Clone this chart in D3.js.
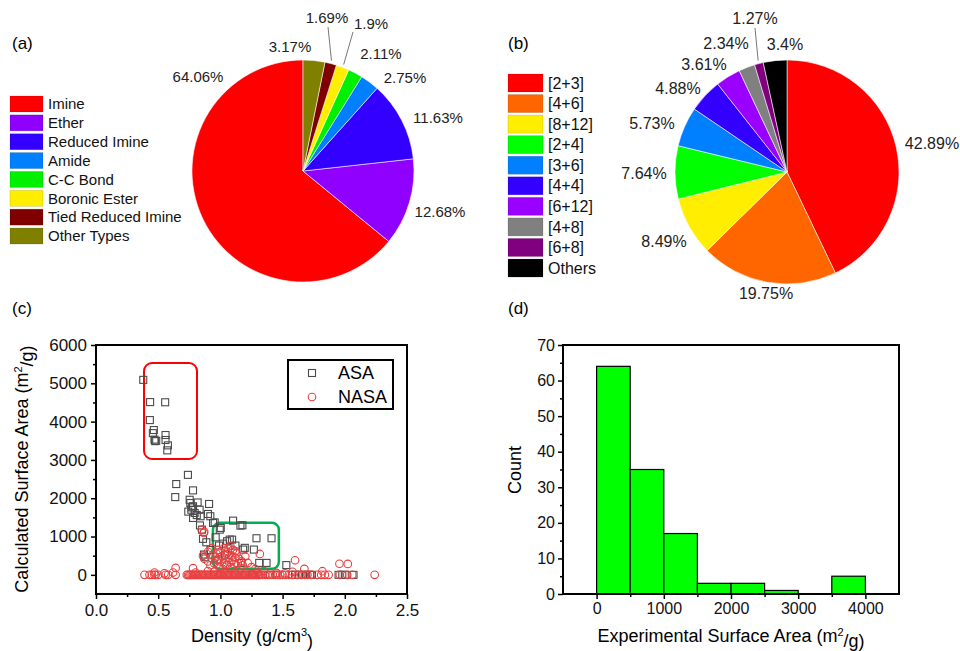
<!DOCTYPE html>
<html><head><meta charset="utf-8">
<script src="https://cdn.jsdelivr.net/npm/d3@7"></script>
<style>
html,body{margin:0;padding:0;background:#fff;}
svg{display:block;font-family:Arial,"Liberation Sans",sans-serif;}
</style></head>
<body><svg id="c" width="960" height="651"></svg>
<script>
// ---------- DATA ----------
const bondTypes = ["Imine","Ether","Reduced Imine","Amide","C-C Bond","Boronic Ester","Tied Reduced Imine","Other Types"];
const bondShares = [64.06,12.68,11.63,2.75,2.11,1.9,1.69,3.17];
const bondColors = ["#FF0000","#8F00FF","#3300FF","#0080FF","#00F000","#FFEE00","#800000","#808000"];

const topoTypes = ["[2+3]","[4+6]","[8+12]","[2+4]","[3+6]","[4+4]","[6+12]","[4+8]","[6+8]","Others"];
const topoShares = [42.89,19.75,8.49,7.64,5.73,4.88,3.61,2.34,1.27,3.4];
const topoColors = ["#FF0000","#FF6600","#FFEE00","#00FF00","#0080FF","#3300FF","#9900FF","#808080","#800080","#000000"];

const asaDensity = [0.38,0.435,0.556,0.433,0.465,0.457,0.47,0.484,0.475,0.559,0.559,0.578,0.573,
  0.739,0.645,0.637,0.78,0.753,0.758,0.817,0.909,0.742,0.766,0.78,0.793,0.833,0.841,0.78,0.90,0.919,
  0.954,0.941,0.995,0.836,0.852,0.86,0.887,0.962,1.003,1.102,1.161,1.177,1.054,1.075,1.094,1.022,
  0.989,1.121,1.196,1.183,1.269,1.29,1.411,0.868,0.879,0.984,1.038,1.312,1.371,1.169,1.53,
  1.575,1.6,1.63,1.66,1.69,1.72,1.736,1.95,1.98,2.0,2.07,1.12,1.2,1.26,1.33,1.4,1.45,0.77,0.81,0.92];
const asaArea = [5090,4510,4505,4040,3780,3700,3530,3500,3490,3650,3520,3380,3250,
  2610,2370,2030,2205,1960,1875,1890,1850,1650,1700,1790,1615,1700,1530,1485,1590,1530,
  1370,1355,1180,1290,1180,940,850,980,1225,1415,1285,1295,877,920,920,815,
  765,765,705,660,660,955,955,530,460,400,530,312,312,312,255,
  0,0,0,0,0,0,0,0,0,0,0,0,0,0,0,0,0,1760,1560,650];

const nasaDensity = [0.39,0.43,0.45,0.47,0.48,0.5,0.56,0.58,0.64,0.73,0.74,0.75,0.76,0.77,0.78,0.79,0.8,
  0.81,0.82,0.83,0.84,0.85,0.86,0.87,0.88,0.89,0.9,0.91,0.92,0.93,0.94,0.95,0.96,0.97,0.98,0.99,1.0,
  1.01,1.02,1.03,1.04,1.05,1.06,1.07,1.08,1.09,1.1,1.11,1.12,1.13,1.14,1.15,1.16,1.17,1.18,1.19,1.2,
  1.21,1.22,1.23,1.24,1.25,1.26,1.27,1.28,1.29,1.3,1.31,1.32,1.34,1.36,1.38,1.4,1.42,1.44,1.46,1.48,
  1.5,1.52,1.55,1.58,1.62,1.65,1.68,1.7,1.73,1.78,1.81,1.84,1.87,1.96,2.02,2.06,2.24,
  0.64,0.78,0.85,0.866,0.87,0.86,0.87,0.9,0.9,0.92,0.93,0.95,0.96,0.97,0.98,0.99,1.0,1.0,1.01,1.02,
  1.03,1.04,1.05,1.05,1.06,1.07,1.07,1.08,1.08,1.09,1.1,1.1,1.11,1.12,1.13,1.14,1.15,1.16,1.17,1.18,
  1.2,1.22,1.25,1.28,1.317,1.35,1.6,1.675,1.82,1.957,2.024,0.8,0.9,0.95,1.0,1.3,1.45,1.52,1.58,0.62,0.55,0.47,
  0.94,1.06,1.12,0.97,1.09,1.03];
const nasaArea = [0,0,0,0,0,0,0,0,0,0,0,0,0,0,0,0,0,
  0,0,0,0,0,0,0,0,0,0,0,0,0,0,0,0,0,0,0,0,
  0,0,0,0,0,0,0,0,0,0,0,0,0,0,0,0,0,0,0,0,
  0,0,0,0,0,0,0,0,0,0,0,0,0,0,0,0,0,0,0,0,
  0,0,0,0,0,0,0,0,0,0,0,0,0,0,0,0,0,
  180,175,1180,1095,1120,500,420,350,600,250,700,300,450,550,650,200,600,350,480,150,
  700,400,250,550,600,330,450,750,200,500,380,650,280,450,560,300,420,180,350,250,
  480,310,200,150,545,100,380,155,95,290,285,60,100,80,50,60,50,40,80,60,40,60,
  520,680,620,380,160,300];

const histBinStart = [0,500,1000,1500,2000,2500,3000,3500];
const histCounts = [64,35,17,3,3,1,0,5];
const binWidth = 500;

const xTicksC = [0,0.5,1.0,1.5,2.0,2.5];
const yTicksC = [0,1000,2000,3000,4000,5000,6000];
const xTicksD = [0,1000,2000,3000,4000];
const yTicksD = [0,10,20,30,40,50,60,70];

// ---------- DRAW ----------
const svg = d3.select("#c");
const FONT = "Arial, 'Liberation Sans', sans-serif";

function panelLabel(t,x,y){
  svg.append("text").attr("x",x).attr("y",y).attr("dy","0.35em").attr("font-size",17).text(t);
}
panelLabel("(a)",12,43); panelLabel("(b)",508,43); panelLabel("(c)",12,308); panelLabel("(d)",508,308);

function drawPie(opts){
  const g = svg.append("g").attr("transform",`translate(${opts.cx},${opts.cy})`);
  const pie = d3.pie().sort(null).value(d=>d.v).startAngle(0).endAngle(opts.dir*2*Math.PI);
  const arcs = pie(opts.data);
  const arc = d3.arc().innerRadius(0).outerRadius(opts.r);
  g.selectAll("path").data(arcs).enter().append("path")
    .attr("d",arc).attr("fill",d=>d.data.c)
    .attr("stroke","#fff").attr("stroke-width",0.7).attr("stroke-opacity",0.8);
  arcs.forEach((a,i)=>{
    const lp = opts.labels[i];
    g.append("text").attr("x",lp[0]).attr("y",lp[1]).attr("dy","0.35em")
      .attr("text-anchor","middle").attr("font-size",opts.fs).attr("fill","#222")
      .text(a.data.v+"%");
    if(lp.length>2){
      const mid=(a.startAngle+a.endAngle)/2, rr=opts.r+3;
      g.append("line").attr("x1",lp[2]).attr("y1",lp[3])
        .attr("x2",rr*Math.sin(mid)).attr("y2",-rr*Math.cos(mid))
        .attr("stroke","#777").attr("stroke-width",1);
    }
  });
  const lg = svg.append("g");
  opts.data.forEach((d,i)=>{
    const y = opts.ly + i*opts.lp;
    lg.append("rect").attr("x",opts.lx).attr("y",y).attr("width",opts.sw).attr("height",opts.sh)
      .attr("fill",d.c).attr("stroke","#000").attr("stroke-opacity",0.15).attr("stroke-width",0.8);
    lg.append("text").attr("x",opts.lx+opts.sw+5).attr("y",y+opts.sh/2).attr("dy","0.35em")
      .attr("font-size",opts.lfs).attr("fill","#111").text(d.n);
  });
}

drawPie({
  cx:303, cy:171, r:111, dir:-1, fs:15,
  data: bondTypes.map((n,i)=>({n, v:bondShares[i], c:bondColors[i]})),
  labels: [[-105,-94],[137,41],[135,-53],[102,-93],[78,-117],[68,-147,50,-139],[24,-153,25,-144],[-13,-124]],
  lx:10, ly:96, lp:18.86, sw:33, sh:16, lfs:15
});

drawPie({
  cx:787, cy:172, r:112, dir:1, fs:16,
  data: topoTypes.map((n,i)=>({n, v:topoShares[i], c:topoColors[i]})),
  labels: [[145,-29],[-21,121],[-123,69],[-143,1],[-135,-49],[-109,-84],[-83,-108],[-61,-129],[-32,-154,-32,-144],[-2,-128]],
  lx:508, ly:74, lp:20.56, sw:35, sh:18, lfs:16
});

// ---------- (c) scatter ----------
const xc = d3.scaleLinear().domain([0,2.5]).range([96,407]);
const yc = d3.scaleLinear().domain([-500,6000]).range([594,345]);

function styleAxis(sel, fs){
  sel.select(".domain").remove();
  sel.selectAll(".tick line").attr("stroke","#000").attr("stroke-width",1.5);
  sel.selectAll(".tick text").attr("font-size",fs).attr("font-family",FONT).attr("fill","#111");
}
const gc = svg.append("g");
gc.append("g").attr("transform","translate(96,0)")
  .call(d3.axisLeft(yc).tickValues(yTicksC).tickSize(5).tickPadding(4).tickFormat(d3.format("d")))
  .call(s=>styleAxis(s,17));
gc.append("g").attr("transform","translate(96,0)")
  .call(d3.axisLeft(yc).tickValues([500,1500,2500,3500,4500,5500]).tickSize(3).tickFormat(""))
  .call(s=>styleAxis(s,17));
gc.append("g").attr("transform","translate(0,594)")
  .call(d3.axisBottom(xc).tickValues(xTicksC).tickSize(5).tickPadding(5).tickFormat(d3.format(".1f")))
  .call(s=>styleAxis(s,17));
gc.append("g").attr("transform","translate(0,594)")
  .call(d3.axisBottom(xc).tickValues([0.25,0.75,1.25,1.75,2.25]).tickSize(3).tickFormat(""))
  .call(s=>styleAxis(s,17));

gc.append("rect").attr("x",xc(0.386)).attr("y",yc(5530)).attr("width",xc(0.812)-xc(0.386))
  .attr("height",yc(3026)-yc(5530)).attr("rx",8).attr("fill","none").attr("stroke","#FF0000").attr("stroke-width",2);
gc.append("rect").attr("x",xc(0.94)).attr("y",yc(1357)).attr("width",xc(1.47)-xc(0.94))
  .attr("height",yc(157)-yc(1357)).attr("rx",7).attr("fill","none").attr("stroke","#00B050").attr("stroke-width",2.5);

const ms = 7;
gc.append("g").selectAll("rect").data(asaDensity.map((d,i)=>[d,asaArea[i]])).enter().append("rect")
  .attr("x",d=>xc(d[0])-ms/2).attr("y",d=>yc(d[1])-ms/2).attr("width",ms).attr("height",ms)
  .attr("fill","none").attr("stroke","#4a4a4a").attr("stroke-width",1.1);
gc.append("g").selectAll("circle").data(nasaDensity.map((d,i)=>[d,nasaArea[i]])).enter().append("circle")
  .attr("cx",d=>xc(d[0])).attr("cy",d=>yc(d[1])).attr("r",3.8)
  .attr("fill","none").attr("stroke","#E84040").attr("stroke-width",1.1);

gc.append("rect").attr("x",96).attr("y",345).attr("width",311).attr("height",249)
  .attr("fill","none").attr("stroke","#000").attr("stroke-width",2);

gc.append("rect").attr("x",288).attr("y",360).attr("width",105).attr("height",49)
  .attr("fill","#fff").attr("stroke","#000").attr("stroke-width",2);
gc.append("rect").attr("x",312-ms/2).attr("y",373-ms/2).attr("width",ms).attr("height",ms)
  .attr("fill","none").attr("stroke","#4a4a4a").attr("stroke-width",1.1);
gc.append("circle").attr("cx",312).attr("cy",397).attr("r",3.8).attr("fill","none").attr("stroke","#E84040").attr("stroke-width",1.1);
gc.append("text").attr("x",338).attr("y",373).attr("dy","0.35em").attr("font-size",18).text("ASA");
gc.append("text").attr("x",338).attr("y",397).attr("dy","0.35em").attr("font-size",18).text("NASA");

const tY = gc.append("text").attr("transform","translate(22,469) rotate(-90)").attr("text-anchor","middle")
  .attr("dy","0.35em").attr("font-size",18);
tY.append("tspan").text("Calculated Surface Area (m");
tY.append("tspan").attr("font-size",11).attr("dy","-0.6em").text("2");
tY.append("tspan").attr("dy","0.6em").text("/g)");
const tX = gc.append("text").attr("x",252).attr("y",636).attr("dy","0.35em").attr("text-anchor","middle").attr("font-size",18);
tX.append("tspan").text("Density (g/cm");
tX.append("tspan").attr("font-size",11).attr("dy","-0.6em").text("3");
tX.append("tspan").attr("dy","0.6em").text(")");

// ---------- (d) histogram ----------
const xd = d3.scaleLinear().domain([-500,4500]).range([563,899]);
const yd = d3.scaleLinear().domain([0,70]).range([594,345]);
const gd = svg.append("g");
gd.append("g").attr("transform","translate(563,0)")
  .call(d3.axisLeft(yd).tickValues(yTicksD).tickSize(5).tickPadding(3))
  .call(s=>styleAxis(s,16));
gd.append("g").attr("transform","translate(563,0)")
  .call(d3.axisLeft(yd).tickValues([5,15,25,35,45,55,65]).tickSize(3).tickFormat(""))
  .call(s=>styleAxis(s,16));
gd.append("g").attr("transform","translate(0,594)")
  .call(d3.axisBottom(xd).tickValues(xTicksD).tickSize(5).tickPadding(4).tickFormat(d3.format("d")))
  .call(s=>styleAxis(s,16));
gd.append("g").attr("transform","translate(0,594)")
  .call(d3.axisBottom(xd).tickValues([500,1500,2500,3500]).tickSize(3).tickFormat(""))
  .call(s=>styleAxis(s,16));

gd.append("g").selectAll("rect").data(histBinStart.map((b,i)=>[b,histCounts[i]])).enter().append("rect")
  .attr("x",d=>xd(d[0])).attr("y",d=>yd(d[1])).attr("width",d=>xd(d[0]+binWidth)-xd(d[0]))
  .attr("height",d=>yd(0)-yd(d[1])).attr("fill","#00FF00").attr("stroke","#000").attr("stroke-width",1.2);

gd.append("rect").attr("x",563).attr("y",345).attr("width",336).attr("height",249)
  .attr("fill","none").attr("stroke","#000").attr("stroke-width",2);

gd.append("text").attr("transform","translate(515,470) rotate(-90)").attr("text-anchor","middle")
  .attr("dy","0.35em").attr("font-size",18).text("Count");
const tXd = gd.append("text").attr("x",731).attr("y",636).attr("dy","0.35em").attr("text-anchor","middle").attr("font-size",18);
tXd.append("tspan").text("Experimental Surface Area (m");
tXd.append("tspan").attr("font-size",11).attr("dy","-0.6em").text("2");
tXd.append("tspan").attr("dy","0.6em").text("/g)");
</script></body></html>
